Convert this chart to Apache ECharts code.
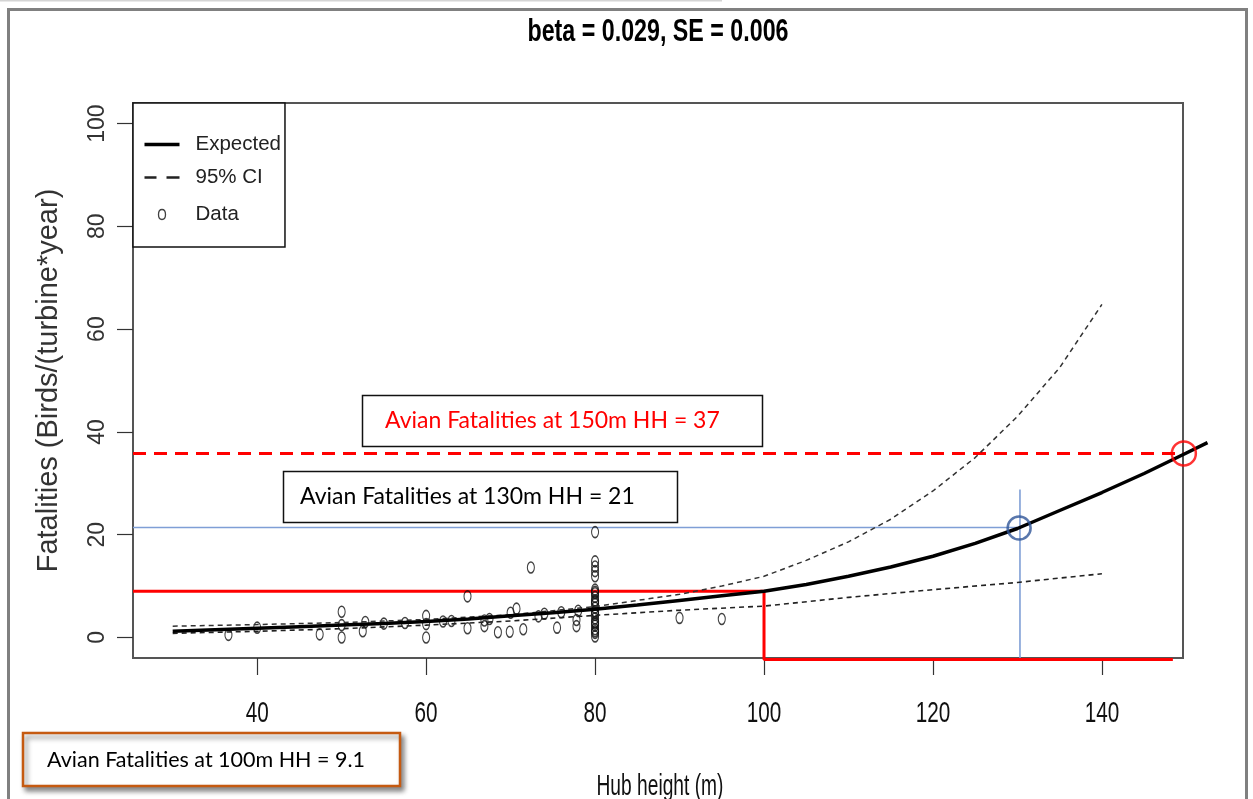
<!DOCTYPE html>
<html><head><meta charset="utf-8">
<script src="https://cdn.jsdelivr.net/npm/echarts@6/dist/echarts.min.js"></script>
<style>html,body{margin:0;padding:0;background:#fff}#c{width:1253px;height:799px}</style>
</head><body><div id="c"></div><script>
// ---- data ----
const expectedX = [30,35,40,45,50,55,60,65,70,75,80,85,90,95,100,105,110,115,120,125,130,135,140,145,150,152.5];
const expectedY = [1.2,1.5,1.8,2.1,2.4,2.7,3.1,3.6,4.2,4.8,5.5,6.3,7.2,8.1,9.0,10.3,11.9,13.7,15.8,18.3,21.2,24.7,28.2,31.9,35.9,37.9];
const upperX = [30,40,50,60,70,80,90,95,100,105,110,115,120,125,130,135,140];
const upperY = [2.2,2.5,2.9,3.5,4.4,6.0,8.4,10.0,11.9,15.0,18.6,23.0,28.5,35.0,43.0,52.5,64.8];
const lowerX = [30,40,50,60,70,80,90,100,110,120,130,140];
const lowerY = [0.8,1.2,1.7,2.4,3.2,4.3,5.3,6.1,7.8,9.3,10.7,12.4];
const dataX = [36.6,40,47.4,50,50,50,52.8,52.5,55,57.5,60,60,60,62,63,64.9,64.9,66.9,66.9,67.5,68.5,69.9,70,70.7,71.5,72.4,73.3,74,75.5,76,77.8,77.8,78,
  80,80,80,80,80,80,80,80,80,80,80,80,80,80,80,80,80,80,80,80,80,80,80,80,90,95];
const dataY = [0.5,1.9,0.6,5.0,2.4,0.0,3.0,1.2,2.7,2.8,4.2,2.6,0.0,3.1,3.2,8.0,1.8,2.2,3.3,3.6,1.0,1.1,4.8,5.6,1.6,13.6,4.1,4.6,1.9,4.9,3.4,2.2,5.2,
  20.5,14.8,13.8,12.9,11.9,9.3,8.9,8.6,7.9,7.2,6.5,5.8,5.1,4.4,3.7,3.0,2.3,1.6,0.9,0.2,6.9,4.8,2.7,1.2,3.8,3.6];
const xTicks = [40,60,80,100,120,140];
const yTicks = [0,20,40,60,80,100];
// reference annotations
const hh150 = {x: 149.7, y: 35.8, label: 'Avian Fatalities at 150m HH = 37'};
const hh130 = {x: 130.2, y: 21.4, top: 28.8, label: 'Avian Fatalities at 130m HH = 21'};
const hh100 = {x: 100, y: 9.0, floor: -4.3, end: 148.4, label: 'Avian Fatalities at 100m HH = 9.1'};
const xMin = 25.3, xMax = 149.6, yMin = -4, yMax = 104;

const zip = (a, b) => a.map((v, i) => [v, b[i]]);
const SANS = '"Liberation Sans",Arial,sans-serif';
const BOXF = 'Lato,"Open Sans",sans-serif';

// plot box and an overlay grid with the same scale that reaches past the box (for marks drawn over its edge)
const G = {left: 133, top: 103, width: 1050, height: 555};
const extraR = 70, extraB = 12;
const xMax2 = xMin + (xMax - xMin) * (G.width + extraR) / G.width;
const yMin2 = yMin - (yMax - yMin) * extraB / G.height;

const chart = echarts.init(document.getElementById('c'), null, {renderer: 'canvas'});
const lineBase = {type: 'line', showSymbol: false, symbol: 'none', silent: true, clip: false, animation: false};
const hiddenAxis = {show: false, axisLine: {show: false, onZero: false}, axisTick: {show: false}, axisLabel: {show: false}, splitLine: {show: false}};

chart.setOption({
  animation: false,
  backgroundColor: '#fff',
  grid: [
    Object.assign({outerBoundsMode: 'none', containLabel: false, show: true, borderColor: '#555', borderWidth: 2, backgroundColor: 'transparent'}, G),
    {left: G.left, top: G.top, width: G.width + extraR, height: G.height + extraB, outerBoundsMode: 'none', containLabel: false, show: false}
  ],
  xAxis: [{
    type: 'value', min: xMin, max: xMax, gridIndex: 0,
    axisLine: {show: false, onZero: false}, splitLine: {show: false},
    axisTick: {show: true, length: 17, customValues: xTicks, lineStyle: {color: '#333', width: 1.2}},
    axisLabel: {show: false, customValues: xTicks}
  }, Object.assign({type: 'value', min: xMin, max: xMax2, gridIndex: 1}, hiddenAxis)],
  yAxis: [{
    type: 'value', min: yMin, max: yMax, gridIndex: 0,
    name: 'Fatalities (Birds/(turbine*year)', nameLocation: 'middle', nameGap: 70,
    nameTextStyle: {fontFamily: SANS, fontSize: 29, color: '#333'},
    axisLine: {show: false, onZero: false}, splitLine: {show: false},
    axisTick: {show: true, length: 16, customValues: yTicks, lineStyle: {color: '#333', width: 1.2}},
    axisLabel: {customValues: yTicks, rotate: 90, margin: 24, fontFamily: SANS, fontSize: 23, color: '#333'}
  }, Object.assign({type: 'value', min: yMin2, max: yMax, gridIndex: 1}, hiddenAxis)],
  legend: {
    left: 133, top: 103, orient: 'vertical', backgroundColor: '#fff',
    borderColor: '#111', borderWidth: 1.5, borderRadius: 0,
    padding: [31, 4, 18, 9], itemGap: 12, itemWidth: 35, itemHeight: 24,
    textStyle: {fontFamily: SANS, fontSize: 20.5, color: '#222', padding: [0, 0, 0, 11]},
    selectedMode: false,
    data: [
      {name: 'Expected', icon: 'path://M0,0H36V3.5H0Z'},
      {name: '95% CI', icon: 'path://M0,0H12V2.5H0Z M22,0H35V2.5H22Z'},
      {name: 'Data', icon: 'path://M0,0 M35,24 M17.5,7 C20,7 21,9.5 21,12 C21,14.5 20,17 17.5,17 C15,17 14,14.5 14,12 C14,9.5 15,7 17.5,7 Z',
       itemStyle: {color: 'none', borderColor: '#111', borderWidth: 1.3}}
    ]
  },
  series: [
    Object.assign({}, lineBase, {name: 'hh100', xAxisIndex: 1, yAxisIndex: 1, data: [[xMin, hh100.y], [hh100.x, hh100.y], [hh100.x, hh100.floor], [hh100.end, hh100.floor]], lineStyle: {color: '#ff0000', width: 3}, z: 3}),
    Object.assign({}, lineBase, {name: 'hh130h', data: [[xMin, hh130.y], [hh130.x, hh130.y]], lineStyle: {color: '#7f9fd6', width: 1.6}, z: 3}),
    Object.assign({}, lineBase, {name: 'hh130v', data: [[hh130.x + 0.1, yMin], [hh130.x + 0.1, hh130.top]], lineStyle: {color: '#7f9fd6', width: 1.6}, z: 3}),
    Object.assign({}, lineBase, {name: 'hh150', data: [[xMin, hh150.y], [hh150.x, hh150.y]], lineStyle: {color: '#ff0000', width: 3, type: [13, 8]}, z: 3}),
    {type: 'scatter', name: 'Data', data: zip(dataX, dataY), symbol: 'circle', symbolSize: [7, 11], silent: true,
     itemStyle: {color: 'transparent', borderColor: '#111', borderWidth: 1.3}, z: 4},
    Object.assign({}, lineBase, {name: '95% CI', data: zip(upperX, upperY), itemStyle: {color: '#222'}, lineStyle: {color: '#333', width: 1.5, type: [5, 4]}, z: 5}),
    Object.assign({}, lineBase, {name: '95% CI', data: zip(lowerX, lowerY), itemStyle: {color: '#222'}, lineStyle: {color: '#222', width: 1.6, type: [5, 4]}, z: 5}),
    Object.assign({}, lineBase, {name: 'Expected', xAxisIndex: 1, yAxisIndex: 1, data: zip(expectedX, expectedY), itemStyle: {color: '#000'}, lineStyle: {color: '#000', width: 3.5}, z: 6}),
    {type: 'scatter', name: 'm130', data: [[hh130.x, hh130.y - 0.1]], symbol: 'circle', symbolSize: 23, silent: true, clip: false,
     itemStyle: {color: 'transparent', borderColor: '#2f5597', borderWidth: 2.5}, z: 7},
    {type: 'scatter', name: 'm150', xAxisIndex: 1, yAxisIndex: 1, data: [[hh150.x, hh150.y]], symbol: 'circle', symbolSize: 24, silent: true, clip: false,
     itemStyle: {color: 'transparent', borderColor: '#ff0000', borderWidth: 2.5}, z: 7}
  ]
});

// horizontally condensed texts (title, x tick labels, x axis name); tick labels placed through the x axis scale
const g = [
  {type: 'rect', z: 100, silent: true, shape: {x: 8.5, y: 9.5, width: 1238, height: 820}, style: {fill: 'none', stroke: '#808080', lineWidth: 3}},
  {type: 'line', z: 100, silent: true, shape: {x1: 0, y1: 0.5, x2: 722, y2: 0.5}, style: {stroke: '#d4d4d4', lineWidth: 2}},
  {type: 'text', z: 100, silent: true, x: 658, y: 32, scaleX: 0.75, style: {text: 'beta = 0.029, SE = 0.006', font: 'bold 31px ' + SANS, fill: '#000', align: 'center', verticalAlign: 'middle'}},
  {type: 'rect', z: 100, silent: true, shape: {x: 362.5, y: 395.5, width: 400, height: 51}, style: {fill: '#fff', stroke: '#111', lineWidth: 1.5}},
  {type: 'text', z: 101, silent: true, x: 385, y: 421, style: {text: hh150.label, font: '23px ' + BOXF, fill: '#ff0000', verticalAlign: 'middle'}},
  {type: 'rect', z: 100, silent: true, shape: {x: 283.5, y: 471.5, width: 394, height: 51}, style: {fill: '#fff', stroke: '#111', lineWidth: 1.5}},
  {type: 'text', z: 101, silent: true, x: 300, y: 497, style: {text: hh130.label, font: '23px ' + BOXF, fill: '#000', verticalAlign: 'middle'}},
  {type: 'rect', z: 100, silent: true, shape: {x: 23, y: 733, width: 377, height: 53}, style: {fill: '#fff', stroke: '#c55a11', lineWidth: 2.5, shadowBlur: 5, shadowOffsetX: 3, shadowOffsetY: 4, shadowColor: 'rgba(0,0,0,0.45)'}},
  {type: 'text', z: 101, silent: true, x: 47, y: 760, style: {text: hh100.label, font: '21.5px ' + BOXF, fill: '#000', verticalAlign: 'middle'}}
];
const xMid = chart.convertToPixel({xAxisIndex: 0}, (xMin + xMax) / 2);
xTicks.forEach(v => {
  const px = chart.convertToPixel({xAxisIndex: 0}, v);
  g.push({type: 'text', z: 100, silent: true, x: px, y: 714, scaleX: 0.69,
    style: {text: String(v), font: '30px ' + SANS, fill: '#111', align: 'center', verticalAlign: 'middle'}});
});
g.push({type: 'text', z: 100, silent: true, x: xMid + 2, y: 787, scaleX: 0.64,
  style: {text: 'Hub height (m)', font: '30px ' + SANS, fill: '#111', align: 'center', verticalAlign: 'middle'}});
chart.setOption({graphic: g});
</script></body></html>
